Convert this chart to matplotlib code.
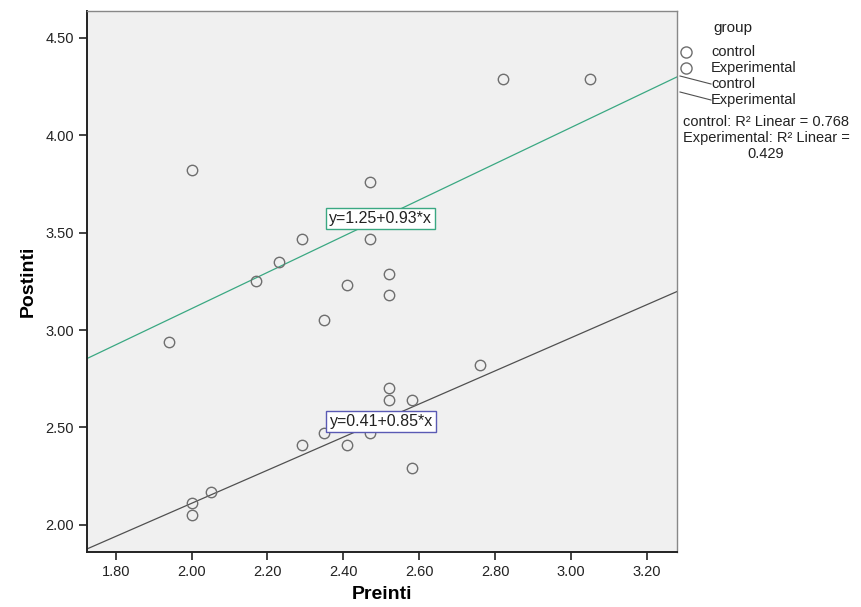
import matplotlib.pyplot as plt
from matplotlib.lines import Line2D

plt.rcParams['font.family'] = ['Liberation Sans', 'DejaVu Sans']

# data
exp_pre = [2.00, 1.94, 2.17, 2.23, 2.29, 2.47, 2.47, 2.52, 2.41, 2.52, 2.35, 3.05, 2.82]
exp_post = [3.82, 2.94, 3.25, 3.35, 3.47, 3.76, 3.47, 3.29, 3.23, 3.18, 3.05, 4.29, 4.29]
ctl_pre = [2.00, 2.00, 2.05, 2.29, 2.35, 2.41, 2.47, 2.52, 2.52, 2.58, 2.76, 2.58]
ctl_post = [2.11, 2.05, 2.17, 2.41, 2.47, 2.41, 2.47, 2.70, 2.64, 2.64, 2.82, 2.29]

fit_groups = ['control', 'Experimental']
fit_intercept = [0.41, 1.25]
fit_slope = [0.85, 0.93]
r_squared = [0.768, 0.429]

x_ticks = [1.80, 2.00, 2.20, 2.40, 2.60, 2.80, 3.00, 3.20]
y_ticks = [2.00, 2.50, 3.00, 3.50, 4.00, 4.50]

fig = plt.figure(figsize=(8.61, 6.07), dpi=100)
ax = fig.add_axes([0.101, 0.091, 0.685, 0.891])
ax.set_facecolor('#f0f0f0')

xlim = (1.724, 3.279)
ax.set_xlim(xlim)
ax.set_ylim(1.861, 4.639)

marker_style = dict(marker='o', linestyle='none', markersize=7.5, markerfacecolor='none',
                    markeredgecolor='#6e6e6e', markeredgewidth=1.0)
ax.plot(ctl_pre, ctl_post, **marker_style, zorder=3)
ax.plot(exp_pre, exp_post, **marker_style, zorder=3)

line_colors = ['#505050', '#3aa882']
box_colors = ['#5a5ab4', '#3aa882']
label_pos = [(2.50, 2.53), (2.497, 3.572)]
for i in range(2):
    ys = [fit_intercept[i] + fit_slope[i] * x for x in xlim]
    ax.plot(xlim, ys, color=line_colors[i], linewidth=0.9, zorder=2)
    ax.text(label_pos[i][0], label_pos[i][1],
            f'y={fit_intercept[i]:.2f}+{fit_slope[i]:.2f}*x',
            ha='center', va='center', fontsize=11.5, color='#222222', zorder=4,
            bbox=dict(boxstyle='square,pad=0.2', facecolor='white',
                      edgecolor=box_colors[i], linewidth=1.0))

ax.set_xticks(x_ticks)
ax.set_xticklabels([f'{v:.2f}' for v in x_ticks])
ax.set_yticks(y_ticks)
ax.set_yticklabels([f'{v:.2f}' for v in y_ticks])
ax.tick_params(axis='both', direction='out', length=6, width=1.2, labelsize=10.5,
               color='#222222', labelcolor='#222222')

for side in ['left', 'bottom']:
    ax.spines[side].set_color('#222222')
    ax.spines[side].set_linewidth(1.4)
for side in ['top', 'right']:
    ax.spines[side].set_color('#888888')
    ax.spines[side].set_linewidth(1.0)

ax.set_xlabel('Preinti', fontsize=14, fontweight='bold', labelpad=5)
ax.set_ylabel('Postinti', fontsize=14, fontweight='bold', labelpad=6)

# legend on the right, drawn by hand like SPSS does
W, H = 861, 607


def fx(px):
    return px / W


def fy(py):
    return 1 - py / H


fig.text(fx(713), fy(28), 'group', fontsize=11, va='center', ha='left', color='#222222')
for j, name in enumerate(fit_groups):
    y = 52 + 16 * j
    fig.add_artist(Line2D([fx(686)], [fy(y)], marker='o', markersize=8, markerfacecolor='none',
                          markeredgecolor='#6e6e6e', markeredgewidth=1.0, transform=fig.transFigure))
    fig.text(fx(711), fy(y), name, fontsize=10.5, va='center', ha='left', color='#222222')
for j, name in enumerate(fit_groups):
    y = 84 + 16 * j
    fig.add_artist(Line2D([fx(680), fx(711)], [fy(y - 8), fy(y)], color='#505050',
                          linewidth=0.8, transform=fig.transFigure))
    fig.text(fx(711), fy(y), name, fontsize=10.5, va='center', ha='left', color='#222222')

fig.text(fx(766), fy(122), f'{fit_groups[0]}: R\u00b2 Linear = {r_squared[0]:.3f}',
         fontsize=10.5, va='center', ha='center', color='#222222')
fig.text(fx(766), fy(138), f'{fit_groups[1]}: R\u00b2 Linear =',
         fontsize=10.5, va='center', ha='center', color='#222222')
fig.text(fx(766), fy(154), f'{r_squared[1]:.3f}',
         fontsize=10.5, va='center', ha='center', color='#222222')

fig.savefig('out.png', dpi=100)
